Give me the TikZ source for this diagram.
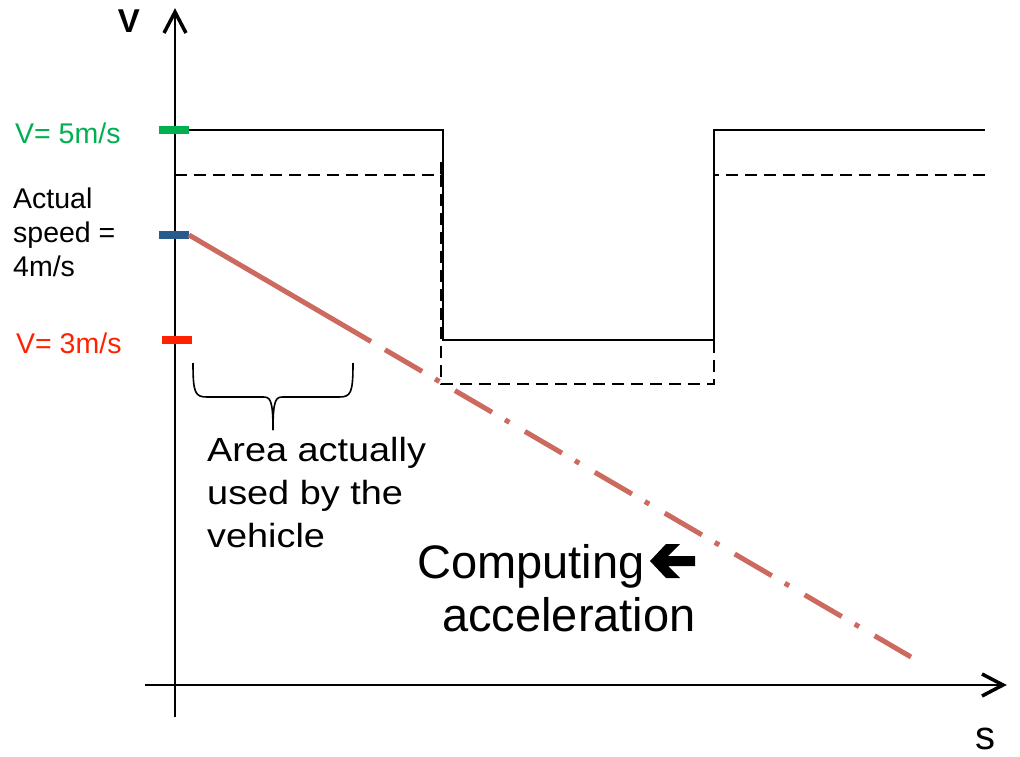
\documentclass[tikz,border=0pt]{standalone}
\usepackage{fontspec}
\setmainfont{Liberation Sans}
\newfontfamily\widesans[FakeStretch=1.13]{Liberation Sans}

\definecolor{limitgreen}{RGB}{0,176,80}
\definecolor{speedblue}{RGB}{40,90,140}
\definecolor{limitred}{RGB}{255,34,0}
\definecolor{brakeline}{RGB}{205,106,96}

\begin{document}
\begin{tikzpicture}[x=1pt,y=-1pt,
  lbl/.style={inner sep=0pt, anchor=base west},
  axisline/.style={line width=2pt, black},
  axishead/.style={line width=3.5pt, line join=miter},
  tickmark/.style={line width=8pt},
  limitline/.style={line width=2pt, black},
  marginline/.style={line width=2pt, black, dash pattern=on 12pt off 7pt},
  brakesolid/.style={brakeline, line width=5pt},
  brakedashdot/.style={brakeline, line width=5pt, dash pattern=on 43pt off 15pt on 5pt off 18pt},
  bracestroke/.style={line width=1.6pt, black}]
\useasboundingbox (0,0) rectangle (1020,757);

% axes
\coordinate (yfoot) at (175,717);
\coordinate (ytip)  at (175,12);
\coordinate (xfoot) at (145,685);
\coordinate (xtip)  at (1003,685);
\draw[axisline] (yfoot) -- ([yshift=-1pt]ytip);
\draw[axishead] (164,33) -- (ytip) -- (186,33);
\draw[axisline] (xfoot) -- ([xshift=-1pt]xtip);
\draw[axishead] (982,674) -- (xtip) -- (982,696);
\node[inner sep=0pt, anchor=base, font=\bfseries\fontsize{33}{38}\selectfont] (vlabel) at (129,33) {V};
\node[inner sep=0pt, anchor=base, font=\fontsize{40}{46}\selectfont] (slabel) at (985,749) {s};

% speed limit profile (solid) and its safety margin (dashed)
\draw[limitline] (188,130) -- (443,130) -- (443,340) -- (714,340) -- (714,130) -- (985,130);
\draw[marginline] (175,175) -- (441,175) -- (441,384) -- (714,384) -- (714,175) -- (985,175);
\draw[marginline] (441,162) -- (441,176);
\draw[marginline] (714,160) -- (714,176);

% ticks on the speed axis
\draw[tickmark, limitgreen] (159,130) -- (189,130);
\draw[tickmark, speedblue]  (159,235) -- (189,235);
\draw[tickmark, limitred]   (162,340) -- (192,340);

% tick labels
\node[lbl, limitgreen, font=\fontsize{28.5}{34}\selectfont] (vfive) at (15,143) {V= 5m/s};
\node[lbl, font=\fontsize{28.5}{34}\selectfont] (act1) at (13,208) {Actual};
\node[lbl, font=\fontsize{28.5}{34}\selectfont] (act2) at (13,242) {speed =};
\node[lbl, font=\fontsize{28.5}{34}\selectfont] (act3) at (13,276) {4m/s};
\node[lbl, limitred, font=\fontsize{28.5}{34}\selectfont] (vthree) at (16,353) {V= 3m/s};

% braking line: used part solid, predicted part dash-dotted
\coordinate (bstart) at (189,235);
\coordinate (bused)  at (371,341.5);
\coordinate (bnext)  at (385,349.7);
\coordinate (bend)   at (911,657);
\draw[brakesolid] (bstart) -- (bused);
\draw[brakedashdot] (bnext) -- (bend);

% brace under the used stretch
\draw[bracestroke] (193,363) .. controls (193,393) and (195,397) .. (207,397) -- (263,397)
  .. controls (270,397) and (273,399) .. (273,430);
\draw[bracestroke] (353,363) .. controls (353,393) and (351,397) .. (339,397) -- (283,397)
  .. controls (276,397) and (273,399) .. (273,430);

\node[lbl, font=\widesans\fontsize{33.5}{43}\selectfont] (area1) at (207,461) {Area actually};
\node[lbl, font=\widesans\fontsize{33.5}{43}\selectfont] (area2) at (207,504) {used by the};
\node[lbl, font=\widesans\fontsize{33.5}{43}\selectfont] (area3) at (207,547) {vehicle};

% computing label with bold left arrow
\node[lbl, font=\fontsize{47}{53}\selectfont] (comp) at (417,578) {Computing};
\fill (650,561) -- (666,544) -- (680,544) -- (668,556) -- (695,556) -- (695,566)
  -- (668,566) -- (680,578) -- (666,578) -- cycle;
\node[lbl, font=\fontsize{47}{53}\selectfont] (accel) at (442,631) {acceleration};
\end{tikzpicture}
\end{document}
